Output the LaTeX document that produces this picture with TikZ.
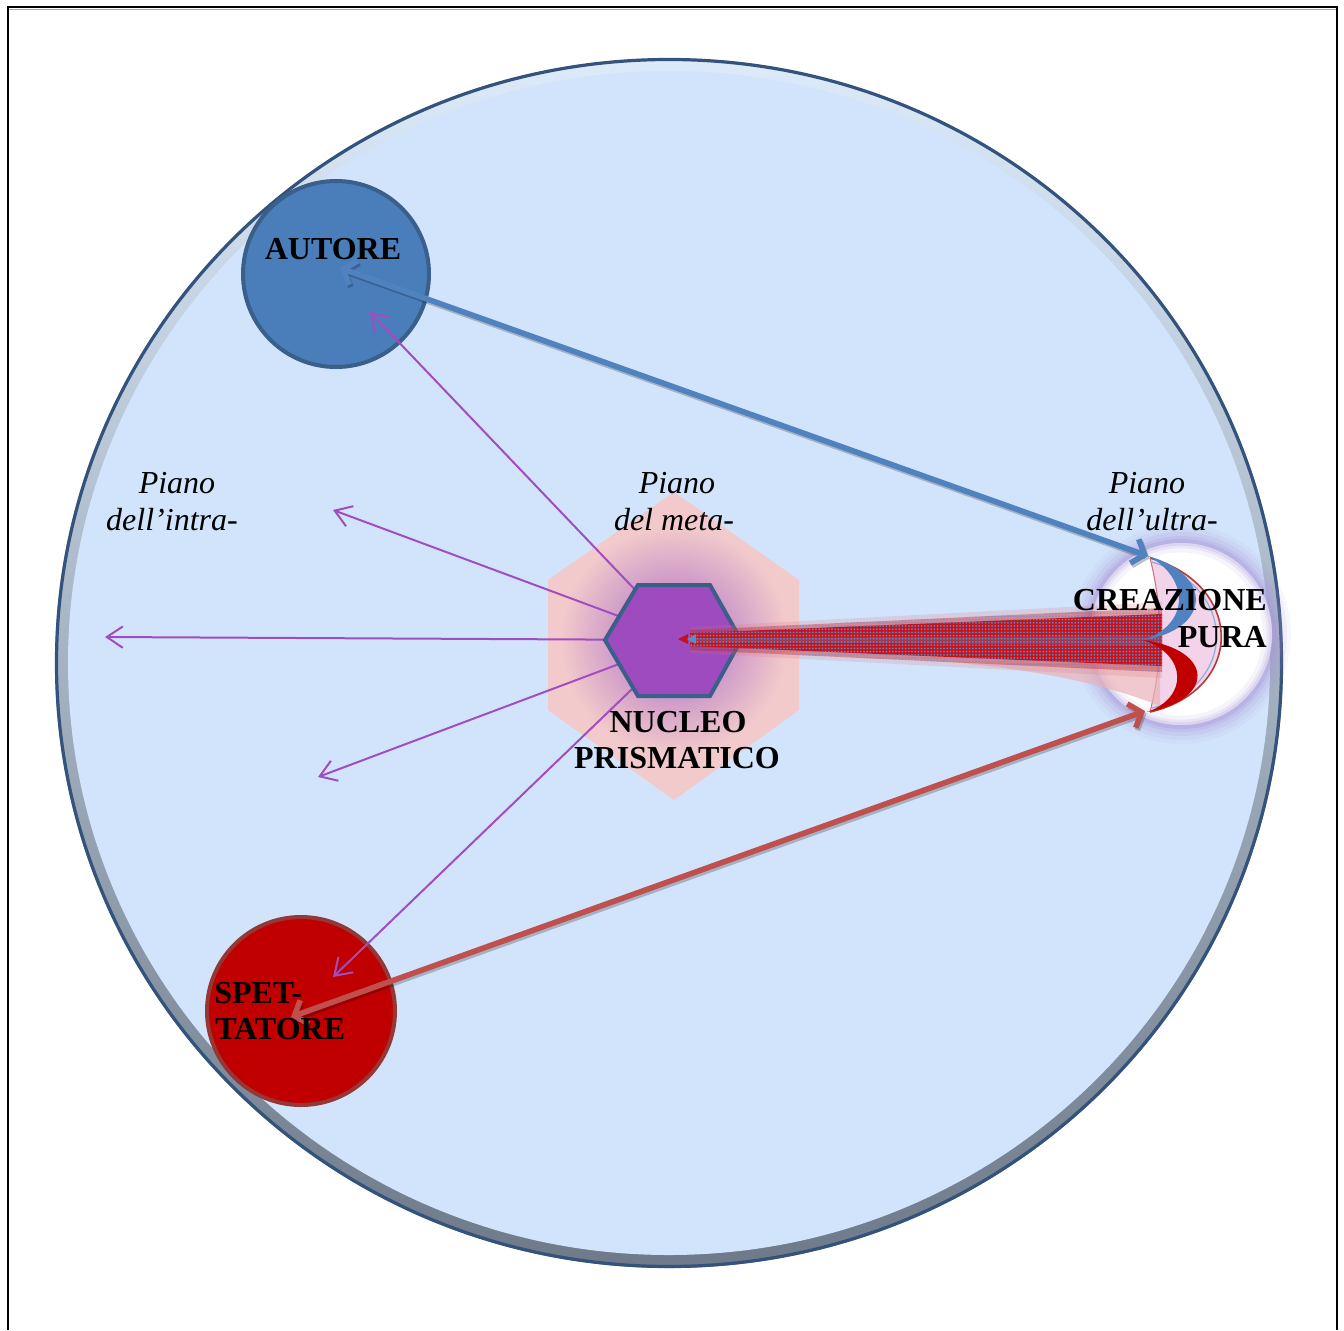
\documentclass[tikz,border=0pt]{standalone}
\usepackage{fontspec}
\setmainfont{Liberation Serif}
\usetikzlibrary{arrows.meta,patterns}
\definecolor{bgblue}{HTML}{D2E4FB}
\definecolor{ringtop}{HTML}{DCEAFA}
\definecolor{ringbot}{HTML}{6E7A89}
\definecolor{rimdark}{HTML}{33527C}
\definecolor{autfill}{HTML}{4A7EBB}
\definecolor{autdraw}{HTML}{3A5F8B}
\definecolor{spefill}{HTML}{C00000}
\definecolor{spedraw}{HTML}{953735}
\definecolor{purparrow}{HTML}{A04DC0}
\definecolor{hexfill}{HTML}{9E4BBF}
\definecolor{hexdraw}{HTML}{3C5F8A}
\definecolor{pinkhex}{HTML}{F2CACB}
\definecolor{hexglow}{HTML}{A868C6}
\definecolor{bluearrow}{HTML}{4F82BE}
\definecolor{redarrow}{HTML}{C0504D}
\definecolor{creglow}{HTML}{A895DA}
\definecolor{lenspink}{HTML}{F3D3EA}
\definecolor{lensline}{HTML}{B33B3B}
\definecolor{beamblue}{HTML}{5A8CC8}
\definecolor{beamred}{HTML}{C8101A}
\definecolor{conepink}{HTML}{E9B3BA}
\pgfdeclarepatternformonly{bluedotgrid}{\pgfpoint{-1.2pt}{-1.2pt}}{\pgfpoint{1.2pt}{1.2pt}}{\pgfpoint{2.4pt}{2.4pt}}{%
  \pgfpathcircle{\pgfpointorigin}{0.75pt}%
  \pgfusepath{fill}}
\begin{document}
\begin{tikzpicture}[x=0.75pt,y=-0.75pt,
  ilbl/.style={font=\fontsize{24}{28}\selectfont\itshape, inner sep=0pt, anchor=base, text=black},
  blbl/.style={font=\fontsize{24}{28}\selectfont\bfseries, inner sep=0pt, anchor=base, text=black},
  purp/.style={draw=purparrow, line width=1.5pt, -{Straight Barb[length=12pt,width=16pt]}},
  bigarrow/.style={line width=4.2pt, line cap=round,
     {Straight Barb[length=8pt,width=19pt]}-{Straight Barb[length=8pt,width=19pt]}},
  arrowshadow/.style={bigarrow, draw=black, opacity=0.22, transform canvas={shift={(1.2pt,-1.8pt)}}},
  bubble/.style={circle, inner sep=0pt, line width=3pt}
]
\useasboundingbox (0,0) rectangle (1344,1330);
\fill[white] (0,0) rectangle (1344,1330);
% frame
\draw[black, line width=1.6pt] (8,1330) -- (8,7) -- (1337,7) -- (1337,1330);
\draw[black!35, line width=0.8pt] (9,9.5) -- (1336,9.5);

% outer world circle
\coordinate (world) at (669,663);
\shade[top color=ringtop, bottom color=ringbot] (world) ellipse [x radius=614, y radius=605];
\fill[bgblue] (world) ellipse [x radius=601, y radius=592];
\draw[rimdark, line width=2.4pt] (world) ellipse [x radius=612.5, y radius=603.5];

% big pink hexagon with purple glow
\coordinate (nuc) at (674,640);
\fill[pinkhex] (674,492) -- (799,580) -- (799,710) -- (674,800) -- (548,710) -- (548,580) -- cycle;
\begin{scope}
  \clip (674,492) -- (799,580) -- (799,710) -- (674,800) -- (548,710) -- (548,580) -- cycle;
  \shade[inner color=hexglow, outer color=pinkhex] (nuc) circle (114);
\end{scope}

% purple arrows from the nucleus
\coordinate (src) at (683,640);
\coordinate (p1) at (370,312);
\coordinate (p2) at (333,510);
\coordinate (p3) at (105,637);
\coordinate (p4) at (318,777);
\coordinate (p5) at (333,977);
\draw[purp] (src) -- (p2);
\draw[purp] (src) -- (p3);
\draw[purp] (src) -- (p4);

% AUTORE and SPETTATORE
\node[bubble, minimum size=139.5pt, fill=autfill, draw=autdraw] (aut) at (336,274) {};
\node[bubble, minimum size=141pt, fill=spefill, draw=spedraw] (spe) at (301,1011) {};
\draw[purp] (src) -- (p1);
\draw[purp] (src) -- (p5);

% small hexagon
\filldraw[fill=hexfill, draw=hexdraw, line width=3pt, line join=miter]
  (605,640) -- (638,585) -- (710,585) -- (741,640) -- (710,696) -- (638,696) -- cycle;

% CREAZIONE PURA bubble
\coordinate (cre) at (1181,634);
\foreach \r/\o in {110/0.07,106/0.10,102/0.14,98/0.2,95/0.3} {
  \fill[creglow, opacity=\o] (cre) circle (\r);
}
\fill[white] (cre) circle (91);
\begin{scope}
  \clip (cre) circle (91);
  \foreach \w/\o in {14/0.10,8/0.15,4/0.2} {
    \draw[creglow, opacity=\o, line width=\w pt] (cre) circle (91);
  }
\end{scope}
\fill[lenspink] (1150,558) .. controls (1245,585) and (1245,690) .. (1150,712)
   .. controls (1163,660) and (1163,610) .. cycle;
\draw[lensline, line width=1.2pt] (1150,558) .. controls (1245,585) and (1245,690) .. (1150,712);
\draw[beamblue!70, line width=0.9pt] (1152,562) .. controls (1238,588) and (1238,686) .. (1152,708);
\draw[lensline!70, line width=0.8pt] (1150,712) .. controls (1163,660) and (1163,610) .. (1150,558);

% beam
\fill[conepink, opacity=0.7] (950,662) -- (1160,664) -- (1160,706)
   .. controls (1120,690) and (1060,672) .. cycle;
\fill[beamred!60, opacity=0.2] (690,627) -- (1162,602) -- (1162,678) -- (690,653) -- cycle;
\fill[beamred, opacity=0.35] (690,630) -- (1162,608) -- (1162,672) -- (690,650) -- cycle;
\fill[pattern=bluedotgrid, pattern color=beamblue, opacity=0.5] (690,630) -- (1162,608) -- (1162,672) -- (690,650) -- cycle;
\fill[beamred] (690,633) -- (1162,614) -- (1162,666) -- (690,646) -- cycle;
\fill[pattern=bluedotgrid, pattern color=beamblue] (690,633) -- (1162,614) -- (1162,666) -- (690,646) -- cycle;
\fill[beamblue, opacity=0.3] (690,638) -- (1162,636) -- (1162,645) -- (690,642) -- cycle;
\fill[beamred] (678,639) -- (688,634) -- (688,644) -- cycle;
\fill[beamblue] (687,639) -- (696,634) -- (696,644) -- cycle;

% crescents
\fill[bluearrow] (1148,556) .. controls (1215,575) and (1210,630) .. (1143,640)
   .. controls (1190,625) and (1190,578) .. cycle;
\fill[spefill] (1143,640) .. controls (1215,650) and (1215,700) .. (1147,712)
   .. controls (1188,698) and (1188,655) .. cycle;

% blue and red double arrows
\coordinate (autend) at (340,268);
\coordinate (creb) at (1148,556);
\coordinate (speend) at (291,1017);
\coordinate (crer) at (1145,711);
\draw[arrowshadow] (creb) -- (autend);
\draw[arrowshadow] (crer) -- (speend);
\draw[bigarrow, bluearrow] (creb) -- (autend);
\draw[bigarrow, redarrow] (crer) -- (speend);

% texts
\node[blbl] (tautore) at (333,259) {AUTORE};
\node[blbl, anchor=base west] (tspet) at (214,1003) {SPET-};
\node[blbl, anchor=base west] (ttatore) at (215,1039) {TATORE};
\node[ilbl] (tpiano1) at (177,493) {Piano};
\node[ilbl] (tintra) at (172,530) {dell’intra-};
\node[ilbl] (tpiano2) at (677,493) {Piano};
\node[ilbl] (tmeta) at (674,530) {del meta-};
\node[ilbl] (tpiano3) at (1147,493) {Piano};
\node[ilbl] (tultra) at (1152,530) {dell’ultra-};
\node[blbl] (tnucleo) at (678,732) {NUCLEO};
\node[blbl] (tprism) at (677,768) {PRISMATICO};
\node[blbl, anchor=base east] (tcrea) at (1267,610) {CREAZIONE};
\node[blbl, anchor=base east] (tpura) at (1267,647) {PURA};
\end{tikzpicture}
\end{document}
